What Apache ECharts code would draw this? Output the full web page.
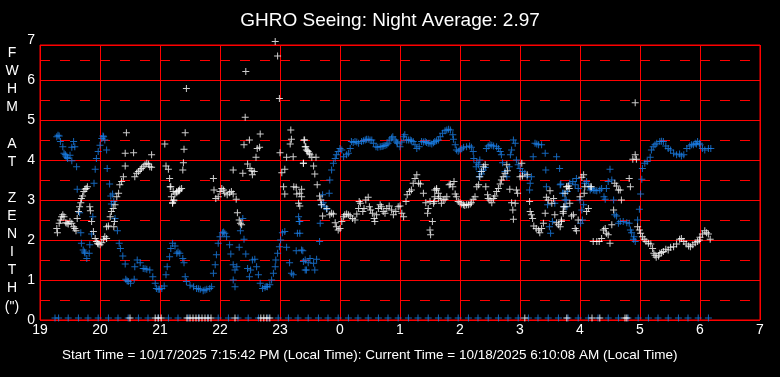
<!DOCTYPE html>
<html>
<head>
<meta charset="utf-8">
<script src="https://cdn.jsdelivr.net/npm/echarts@6/dist/echarts.min.js"></script>
<style>
  html, body { margin: 0; padding: 0; background: #000; }
  #chart { width: 780px; height: 377px; }
</style>
</head>
<body>
<div id="chart"></div>
<script>
"use strict";

// hours since 19:00 run on past midnight (24 = 0h, 31 = 7h)
const hourLabels = ['19', '20', '21', '22', '23', '0', '1', '2', '3', '4', '5', '6', '7'];
const fwhmLabels = ['0', '1', '2', '3', '4', '5', '6', '7'];

// blue track [hour, fwhm]
const blueSeeing = [
  [19.28, 4.58], [19.30, 4.62], [19.32, 4.60], [19.34, 4.46], [19.38, 4.33], [19.40, 4.17], [19.42, 4.14],
  [19.43, 4.10], [19.45, 4.06], [19.46, 4.04], [19.50, 4.12], [19.53, 3.98], [19.56, 4.46], [19.58, 4.33],
  [19.53, 4.32], [19.61, 3.83], [19.62, 3.27], [19.66, 2.68], [19.68, 2.18], [19.69, 1.92], [19.72, 1.75],
  [19.74, 1.70], [19.75, 1.67], [19.78, 1.54], [19.83, 1.88], [19.82, 1.67], [19.86, 2.15], [19.88, 2.58],
  [19.90, 3.42], [19.92, 3.77], [19.94, 4.04], [19.97, 4.21], [20.00, 4.37], [20.03, 4.54], [20.05, 4.60],
  [20.06, 4.58], [20.08, 4.50], [20.11, 4.25], [20.12, 3.79], [20.16, 3.40], [20.18, 3.10], [20.21, 3.15],
  [20.23, 2.96], [20.19, 2.90], [20.25, 2.54], [20.29, 2.23], [20.32, 1.92], [20.34, 1.79], [20.38, 1.60],
  [20.42, 1.40], [20.43, 1.02], [20.45, 0.98], [20.47, 0.96], [20.51, 0.92], [20.57, 1.02], [20.58, 1.33],
  [20.62, 1.50], [20.67, 1.43], [20.72, 1.29], [20.75, 1.28], [20.78, 1.27], [20.83, 1.25], [20.88, 1.08],
  [20.92, 0.92], [20.94, 0.79], [20.97, 0.77], [20.99, 0.77], [21.03, 0.79], [21.07, 0.85], [21.10, 1.13],
  [21.12, 1.33], [21.16, 1.58], [21.18, 1.79], [21.21, 1.92], [21.25, 1.85], [21.28, 1.67], [21.30, 1.70],
  [21.33, 1.67], [21.38, 1.54], [21.40, 1.43], [21.42, 1.08], [21.44, 0.96], [21.50, 0.87], [21.56, 0.83],
  [21.61, 0.79], [21.64, 0.78], [21.67, 0.77], [21.72, 0.73], [21.75, 0.75], [21.78, 0.77], [21.83, 0.79],
  [21.86, 0.83], [21.89, 1.17], [21.92, 1.38], [21.94, 1.63], [21.97, 1.92], [22.00, 2.08], [22.04, 2.18],
  [22.06, 2.20], [22.08, 2.17], [22.11, 2.08], [22.16, 1.88], [22.18, 1.65], [22.22, 1.38], [22.25, 1.25],
  [22.22, 1.00], [22.25, 0.83], [22.28, 1.33], [22.32, 1.82], [22.34, 2.23], [22.38, 2.54], [22.40, 2.02],
  [22.43, 1.65], [22.46, 1.29], [22.49, 1.08], [22.51, 1.25], [22.54, 1.50], [22.58, 1.52], [22.61, 1.33],
  [22.64, 1.13], [22.67, 0.92], [22.71, 0.79], [22.75, 0.82], [22.77, 0.84], [22.79, 0.83], [22.83, 0.88],
  [22.86, 1.00], [22.89, 1.17], [22.92, 1.33], [22.93, 1.50], [22.96, 1.67], [22.99, 1.83], [23.01, 2.00],
  [23.04, 2.18], [23.08, 2.21], [23.11, 1.82], [23.16, 1.43], [23.19, 1.17], [23.22, 1.13], [23.27, 1.73],
  [23.29, 2.17], [23.32, 2.46], [23.31, 2.58], [23.38, 1.73], [23.42, 1.50], [23.44, 1.25], [23.47, 1.43],
  [23.39, 1.46], [23.50, 1.54], [23.56, 1.42], [23.58, 1.25], [23.42, 1.25], [23.61, 1.52], [23.36, 1.75],
  [23.66, 1.96], [23.67, 2.42], [23.33, 2.17], [23.33, 2.46], [23.69, 2.88], [23.75, 2.83], [23.78, 2.77],
  [23.72, 2.93], [23.71, 3.13], [23.82, 3.17], [23.83, 3.50], [23.86, 3.75], [23.89, 3.92], [23.92, 4.04],
  [23.94, 4.13], [23.97, 4.21], [24.00, 4.29], [24.03, 4.25], [24.06, 4.08], [24.11, 4.13], [24.14, 4.17],
  [24.17, 4.29], [24.19, 4.46], [24.22, 4.44], [24.25, 4.46], [24.28, 4.45], [24.31, 4.42], [24.36, 4.46],
  [24.39, 4.48], [24.42, 4.50], [24.44, 4.52], [24.47, 4.52], [24.50, 4.50], [24.53, 4.50], [24.56, 4.42],
  [24.60, 4.33], [24.63, 4.32], [24.67, 4.33], [24.70, 4.34], [24.72, 4.35], [24.75, 4.36], [24.78, 4.38],
  [24.80, 4.42], [24.83, 4.50], [24.86, 4.55], [24.88, 4.58], [24.92, 4.50], [24.94, 4.45], [24.96, 4.42],
  [25.00, 4.33], [25.03, 4.45], [25.06, 4.58], [25.08, 4.63], [25.11, 4.50], [25.14, 4.50], [25.17, 4.50],
  [25.19, 4.48], [25.22, 4.46], [25.25, 4.38], [25.28, 4.29], [25.32, 4.33], [25.36, 4.46], [25.39, 4.45],
  [25.42, 4.46], [25.44, 4.44], [25.47, 4.42], [25.50, 4.42], [25.53, 4.40], [25.56, 4.43], [25.58, 4.46],
  [25.61, 4.48], [25.64, 4.50], [25.67, 4.58], [25.71, 4.67], [25.75, 4.73], [25.78, 4.75], [25.81, 4.77],
  [25.84, 4.75], [25.88, 4.63], [25.89, 4.52], [25.92, 4.38], [25.94, 4.25], [25.97, 4.22], [26.00, 4.25],
  [26.03, 4.28], [26.06, 4.32], [26.11, 4.33], [26.16, 4.35], [26.19, 4.32], [26.22, 4.21], [26.23, 4.04],
  [26.28, 3.93], [26.31, 3.88], [26.33, 4.00], [26.27, 3.83], [26.33, 3.71], [26.36, 3.65], [26.39, 3.75],
  [26.42, 3.81], [26.32, 3.58], [26.44, 4.29], [26.47, 4.35], [26.50, 4.38], [26.53, 4.37], [26.56, 4.35],
  [26.61, 4.33], [26.64, 4.29], [26.67, 4.21], [26.69, 4.13], [26.71, 3.93], [26.75, 3.71], [26.78, 3.58],
  [26.82, 3.83], [26.84, 4.13], [26.86, 4.25], [26.89, 4.50], [26.92, 4.42], [26.94, 4.00], [26.97, 3.88],
  [27.00, 3.79], [27.04, 3.71], [27.08, 3.67], [27.12, 3.58], [27.17, 3.42], [27.16, 3.25], [27.19, 3.58],
  [27.22, 4.08], [27.25, 4.42], [27.28, 4.40], [27.31, 4.38], [27.36, 4.38], [27.42, 4.17], [27.43, 3.75],
  [27.44, 3.33], [27.46, 2.88], [27.49, 2.33], [27.51, 2.17], [27.54, 2.46], [27.58, 2.92], [27.61, 4.08],
  [27.66, 3.79], [27.68, 3.40], [27.71, 3.17], [27.73, 2.83], [27.77, 3.00], [27.79, 3.21], [27.67, 3.38],
  [27.72, 3.17], [27.75, 3.00], [27.78, 2.83], [27.83, 3.42], [27.88, 3.46], [27.92, 3.38], [27.94, 3.54],
  [27.97, 3.29], [28.00, 3.00], [28.03, 2.75], [28.04, 2.50], [28.01, 2.42], [28.06, 2.88], [28.08, 3.42],
  [28.11, 3.46], [28.14, 3.35], [28.17, 3.25], [28.19, 3.29], [28.22, 3.25], [28.25, 3.24], [28.28, 3.23],
  [28.33, 3.25], [28.36, 3.29], [28.40, 3.08], [28.42, 3.02], [28.44, 3.29], [28.47, 3.46], [28.50, 3.77],
  [28.53, 3.50], [28.56, 3.00], [28.58, 2.63], [28.61, 2.60], [28.64, 2.42], [28.67, 2.46], [28.72, 2.46],
  [28.78, 2.43], [28.82, 2.42], [28.84, 2.25], [28.86, 2.18], [28.89, 2.02], [28.92, 1.96], [28.90, 2.08],
  [28.96, 2.50], [28.99, 2.77], [29.01, 3.15], [29.03, 3.52], [29.04, 3.79], [29.08, 3.92], [29.12, 3.96],
  [29.17, 4.07], [29.19, 4.25], [29.22, 4.33], [29.25, 4.38], [29.28, 4.42], [29.33, 4.46], [29.36, 4.47],
  [29.39, 4.46], [29.43, 4.35], [29.47, 4.29], [29.51, 4.25], [29.56, 4.17], [29.61, 4.13], [29.66, 4.15],
  [29.69, 4.10], [29.73, 4.13], [29.78, 4.29], [29.83, 4.35], [29.86, 4.38], [29.89, 4.38], [29.92, 4.42],
  [29.94, 4.40], [29.96, 4.46], [29.99, 4.42], [30.00, 4.38], [30.04, 4.29], [30.08, 4.25], [30.14, 4.29],
  [30.18, 4.29]
];

// white track [hour, fwhm]
const whiteSeeing = [
  [19.28, 2.29], [19.29, 2.18], [19.32, 2.42], [19.34, 2.50], [19.36, 2.58], [19.38, 2.63], [19.40, 2.58],
  [19.43, 2.43], [19.45, 2.42], [19.47, 2.40], [19.50, 2.46], [19.53, 2.42], [19.56, 2.33], [19.58, 2.29],
  [19.60, 2.23], [19.62, 2.54], [19.64, 2.71], [19.66, 2.83], [19.68, 2.93], [19.69, 3.04], [19.71, 3.10],
  [19.73, 3.21], [19.75, 3.27], [19.77, 3.29], [19.79, 3.33], [19.83, 2.83], [19.84, 2.73], [19.86, 2.46],
  [19.89, 2.21], [19.92, 2.04], [19.94, 1.96], [19.96, 1.92], [19.97, 1.90], [20.00, 1.88], [20.03, 1.93],
  [20.06, 2.02], [20.08, 2.08], [20.11, 2.04], [20.11, 2.33], [20.14, 2.35], [20.17, 2.58], [20.19, 2.71],
  [20.22, 2.79], [20.23, 2.33], [20.24, 2.46], [20.25, 2.88], [20.28, 3.08], [20.31, 3.17], [20.33, 3.38],
  [20.36, 3.46], [20.39, 3.58], [20.42, 3.85], [20.44, 4.68], [20.42, 4.17], [20.56, 4.18], [20.58, 3.58],
  [20.61, 3.67], [20.64, 3.71], [20.67, 3.75], [20.69, 3.79], [20.72, 3.83], [20.75, 3.88], [20.78, 3.92],
  [20.81, 3.90], [20.83, 3.83], [20.86, 4.13], [20.86, 3.82], [21.08, 4.40], [21.10, 3.85], [21.14, 3.77],
  [21.16, 3.54], [21.18, 3.33], [21.19, 3.08], [21.21, 2.93], [21.23, 2.98], [21.28, 3.21], [21.32, 3.23],
  [21.17, 3.33], [21.22, 3.21], [21.25, 3.15], [21.28, 3.18], [21.31, 3.23], [21.33, 3.27], [21.36, 3.29],
  [21.21, 2.92], [21.23, 3.00], [21.44, 5.79], [21.42, 4.68], [21.40, 4.27], [21.39, 3.93], [21.38, 3.75],
  [21.89, 3.54], [21.90, 3.25], [21.93, 3.04], [21.97, 3.08], [22.00, 3.21], [22.03, 3.29], [22.06, 3.25],
  [22.08, 3.17], [22.12, 3.13], [22.16, 3.18], [22.19, 3.21], [22.22, 3.15], [22.27, 3.02], [22.22, 3.75],
  [22.29, 2.68], [22.32, 2.50], [22.34, 2.42], [22.36, 2.38], [22.38, 3.67], [22.40, 4.38], [22.43, 6.21],
  [22.42, 5.07], [22.46, 3.90], [22.49, 4.50], [22.50, 3.79], [22.53, 3.73], [22.54, 3.63], [22.57, 3.71],
  [22.60, 4.07], [22.62, 4.29], [22.66, 4.32], [22.67, 4.65], [22.96, 6.60], [22.92, 6.96], [22.99, 5.54],
  [23.00, 4.18], [23.03, 3.68], [23.08, 3.77], [23.11, 4.07], [23.18, 4.75], [23.19, 4.52], [23.17, 4.40],
  [23.22, 4.08], [23.23, 3.33], [23.27, 3.32], [23.28, 3.15], [23.31, 2.92], [23.33, 2.85], [23.36, 3.08],
  [23.39, 3.92], [23.41, 4.50], [23.43, 4.33], [23.46, 4.23], [23.49, 4.17], [23.06, 3.33], [23.08, 3.15],
  [23.36, 3.27], [23.40, 4.50], [23.42, 4.33], [23.44, 4.25], [23.47, 4.21], [23.50, 4.13], [23.53, 4.07],
  [23.60, 4.07], [23.39, 3.92], [23.56, 3.85], [23.58, 3.65], [23.62, 3.38], [23.33, 3.17], [23.66, 3.10],
  [23.68, 3.00], [23.69, 2.88], [23.71, 2.60], [23.78, 2.79], [23.83, 2.63], [23.86, 2.67], [23.89, 2.65],
  [23.92, 2.43], [23.94, 2.33], [23.97, 2.25], [24.00, 2.29], [24.03, 2.46], [24.06, 2.58], [24.08, 2.63],
  [24.11, 2.65], [24.14, 2.63], [24.17, 2.60], [24.21, 2.54], [24.25, 2.50], [24.28, 2.65], [24.31, 2.79],
  [24.32, 2.96], [24.34, 2.92], [24.38, 2.71], [24.40, 2.79], [24.43, 3.00], [24.47, 3.07], [24.49, 2.83],
  [24.51, 2.75], [24.54, 2.67], [24.57, 2.54], [24.58, 2.46], [24.61, 2.63], [24.64, 2.79], [24.67, 2.88],
  [24.69, 2.83], [24.72, 2.71], [24.75, 2.67], [24.78, 2.79], [24.82, 2.85], [24.86, 2.75], [24.89, 2.63],
  [24.93, 2.71], [24.97, 2.83], [25.00, 2.85], [25.03, 2.67], [25.06, 2.58], [25.10, 2.96], [25.12, 3.13],
  [25.16, 3.21], [25.19, 3.25], [25.22, 3.42], [25.25, 3.54], [25.28, 3.63], [25.31, 3.42], [25.34, 3.40],
  [25.39, 3.17], [25.43, 2.93], [25.46, 2.67], [25.47, 2.79], [25.50, 2.25], [25.51, 2.13], [25.54, 2.46],
  [25.57, 2.96], [25.58, 3.25], [25.61, 3.29], [25.64, 3.17], [25.50, 2.96], [25.56, 2.92], [25.58, 3.08],
  [25.61, 3.25], [25.64, 3.04], [25.67, 3.08], [25.69, 2.92], [25.72, 3.00], [25.75, 3.02], [25.78, 3.08],
  [25.82, 3.38], [25.84, 3.40], [25.88, 3.33], [25.90, 3.46], [25.92, 3.15], [25.94, 3.08], [25.97, 2.96],
  [26.00, 2.93], [26.03, 2.90], [26.06, 2.88], [26.08, 2.86], [26.11, 2.88], [26.14, 2.88], [26.17, 2.90],
  [26.19, 2.93], [26.22, 3.02], [26.25, 3.08], [26.28, 3.33], [26.31, 3.38], [26.33, 3.58], [26.36, 3.71],
  [26.39, 3.83], [26.42, 3.88], [26.43, 3.33], [26.46, 3.13], [26.47, 3.04], [26.50, 3.00], [26.53, 2.93],
  [26.56, 3.04], [26.58, 3.10], [26.61, 3.21], [26.64, 3.29], [26.67, 3.40], [26.69, 3.50], [26.72, 3.58],
  [26.75, 3.67], [26.78, 3.88], [26.79, 3.73], [26.83, 3.27], [26.86, 2.93], [26.88, 2.75], [26.89, 2.52],
  [26.92, 2.92], [26.94, 3.25], [26.96, 3.17], [27.00, 3.58], [27.03, 3.92], [27.04, 3.60], [27.12, 3.63],
  [27.16, 2.96], [27.17, 2.71], [27.19, 2.63], [27.21, 2.54], [27.23, 2.35], [27.27, 2.29], [27.31, 2.25],
  [27.33, 2.18], [27.36, 2.29], [27.39, 2.42], [27.42, 2.67], [27.44, 3.07], [27.47, 3.00], [27.50, 3.23],
  [27.53, 2.92], [27.56, 3.04], [27.58, 2.63], [27.61, 2.43], [27.64, 2.38], [27.67, 2.33], [27.69, 2.50],
  [27.72, 2.71], [27.75, 2.83], [27.78, 3.33], [27.82, 3.29], [27.69, 2.46], [27.72, 2.67], [27.73, 2.83],
  [27.75, 3.17], [27.78, 3.33], [27.81, 3.35], [27.83, 2.92], [27.86, 2.60], [27.89, 2.63], [27.92, 2.29],
  [27.94, 2.23], [27.97, 2.50], [28.00, 3.08], [28.03, 3.57], [28.06, 3.63], [28.07, 3.17], [28.08, 3.33],
  [28.11, 2.71], [28.14, 2.79], [28.17, 3.33], [28.19, 3.33], [28.22, 1.96], [28.28, 1.96], [28.32, 1.96],
  [28.36, 2.04], [28.39, 2.25], [28.42, 2.29], [28.44, 2.17], [28.47, 2.13], [28.50, 1.92], [28.53, 2.38],
  [28.56, 2.75], [28.58, 3.42], [28.61, 3.35], [28.64, 3.25], [28.67, 3.25], [28.69, 3.00], [28.82, 3.54],
  [28.84, 3.33], [28.88, 4.02], [28.92, 4.13], [28.92, 5.43], [28.94, 4.02], [28.96, 2.33], [28.99, 2.25],
  [29.01, 2.17], [29.04, 2.08], [29.07, 2.02], [29.10, 1.96], [29.14, 1.92], [29.18, 1.90], [29.21, 1.79],
  [29.23, 1.67], [29.25, 1.62], [29.27, 1.57], [29.31, 1.60], [29.33, 1.67], [29.36, 1.69], [29.39, 1.71],
  [29.43, 1.77], [29.47, 1.75], [29.51, 1.82], [29.56, 1.83], [29.61, 1.90], [29.66, 2.02], [29.69, 2.04],
  [29.73, 1.96], [29.77, 1.90], [29.81, 1.85], [29.84, 1.83], [29.88, 1.88], [29.92, 1.93], [29.96, 1.96],
  [29.99, 2.00], [30.00, 2.07], [30.04, 2.15], [30.08, 2.23], [30.11, 2.18], [30.14, 2.15], [30.17, 2.02]
];

// points sitting on the floor of the plot
const blueFloorTimes = [
  19.25, 19.31, 19.47, 19.64, 19.80, 19.97, 20.14, 20.30, 20.47, 20.64, 20.80, 20.97, 21.14, 21.30, 21.47,
  21.64, 21.80, 21.97, 22.14, 22.30, 22.47, 22.64, 22.80, 22.97, 23.14, 23.30, 23.47, 23.64, 23.80, 23.97,
  24.14, 24.30, 24.47, 24.64, 24.80, 24.97, 25.14, 25.30, 25.47, 25.64, 25.80, 25.97, 26.14, 26.30, 26.47,
  26.64, 26.80, 26.97, 27.14, 27.30, 27.47, 27.64, 27.80, 27.97, 28.14, 28.30, 28.47, 28.64, 28.80, 28.97,
  29.14, 29.30, 29.47, 29.64, 29.80, 29.97, 30.14
];
const whiteFloorTimes = [
  20.50, 20.92, 20.97, 21.02, 21.45, 21.50, 21.55, 21.60, 21.65, 21.70, 21.75, 21.80, 21.85, 22.25,
  22.68, 22.73, 22.78, 22.83, 27.08, 27.78, 28.20, 28.33, 28.75, 28.78
];
const floorValue = 0.05;

const plusPath = 'path://M3,0H4V3H7V4H4V7H3V4H0V3H3Z';
const blueColor = '#1a7fe8';
const gridRed = '#ff0000';

let myChart = echarts.init(document.getElementById('chart'));

let option = {
  backgroundColor: '#000',
  animation: false,
  title: {
    text: 'GHRO Seeing: Night Average: 2.97',
    left: 'center',
    top: 6,
    textStyle: {
      color: '#fff',
      fontSize: 19,
      fontWeight: 'normal',
      fontFamily: 'Liberation Sans, Arial, sans-serif',
    },
  },
  grid: [
    {
      // plot box
      left: 40, right: 20, top: 45, bottom: 57,
      show: true,
      borderColor: gridRed,
      borderWidth: 1,
    },
    {
      // label axis, reaches up to 7
      left: 40, right: 20, top: 40, bottom: 57,
    },
  ],
  xAxis: [
    {
      gridIndex: 0,
      type: 'value',
      min: 19,
      max: 31,
      interval: 1,
      axisLine: { show: false },
      axisTick: { show: false },
      splitLine: { show: true, lineStyle: { color: gridRed, width: 1 } },
      axisLabel: {
        color: '#fff',
        fontSize: 14,
        margin: 3,
        fontFamily: 'Liberation Sans, Arial, sans-serif',
        formatter: function (v) {
          return hourLabels[Math.round(v - 19)];
        },
      },
    },
    {
      gridIndex: 1,
      type: 'value',
      min: 19,
      max: 31,
      show: false,
    },
  ],
  yAxis: [
    {
      gridIndex: 0,
      type: 'value',
      min: 0,
      max: 6.875,
      interval: 1,
      axisLine: { show: false },
      axisTick: { show: false },
      axisLabel: { show: false },
      splitLine: { show: true, lineStyle: { color: gridRed, width: 1 } },
    },
    {
      gridIndex: 1,
      type: 'value',
      min: 0,
      max: 7,
      interval: 1,
      axisLine: { show: false },
      axisTick: { show: false },
      splitLine: { show: false },
      minorTick: { show: false, splitNumber: 2 },
      minorSplitLine: {
        show: true,
        lineStyle: { color: gridRed, width: 1, type: [10, 10] },
      },
      axisLabel: {
        color: '#fff',
        fontSize: 14,
        margin: 5,
        fontFamily: 'Liberation Sans, Arial, sans-serif',
        formatter: function (v) {
          return fwhmLabels[Math.round(v)];
        },
      },
    },
  ],
  graphic: [
    {
      type: 'text',
      x: 12,
      y: 180,
      style: {
        text: ['F', 'W', 'H', 'M', '', 'A', 'T', '', 'Z', 'E', 'N', 'I', 'T', 'H', '(")'].join('\n'),
        fill: '#fff',
        fontSize: 14,
        lineHeight: 18.1,
        fontFamily: 'Liberation Sans, Arial, sans-serif',
        textAlign: 'center',
        textVerticalAlign: 'middle',
      },
    },
    {
      type: 'text',
      x: 62,
      y: 355,
      style: {
        text: 'Start Time = 10/17/2025 7:15:42 PM (Local Time): Current Time = 10/18/2025 6:10:08 AM (Local Time)',
        fill: '#fff',
        fontSize: 13.5,
        fontFamily: 'Liberation Sans, Arial, sans-serif',
        textAlign: 'left',
        textVerticalAlign: 'middle',
      },
    },
  ],
  series: [
    {
      name: 'blue',
      type: 'scatter',
      xAxisIndex: 0,
      yAxisIndex: 0,
      symbol: plusPath,
      symbolSize: 7,
      clip: false,
      itemStyle: { color: blueColor },
      data: blueSeeing.concat(blueFloorTimes.map(function (t) { return [t, floorValue]; })),
    },
    {
      name: 'white',
      type: 'scatter',
      xAxisIndex: 0,
      yAxisIndex: 0,
      symbol: plusPath,
      symbolSize: 7,
      clip: false,
      itemStyle: { color: '#fff' },
      data: whiteSeeing.concat(whiteFloorTimes.map(function (t) { return [t, floorValue]; })),
    },
  ],
};

myChart.setOption(option);
</script>
</body>
</html>
